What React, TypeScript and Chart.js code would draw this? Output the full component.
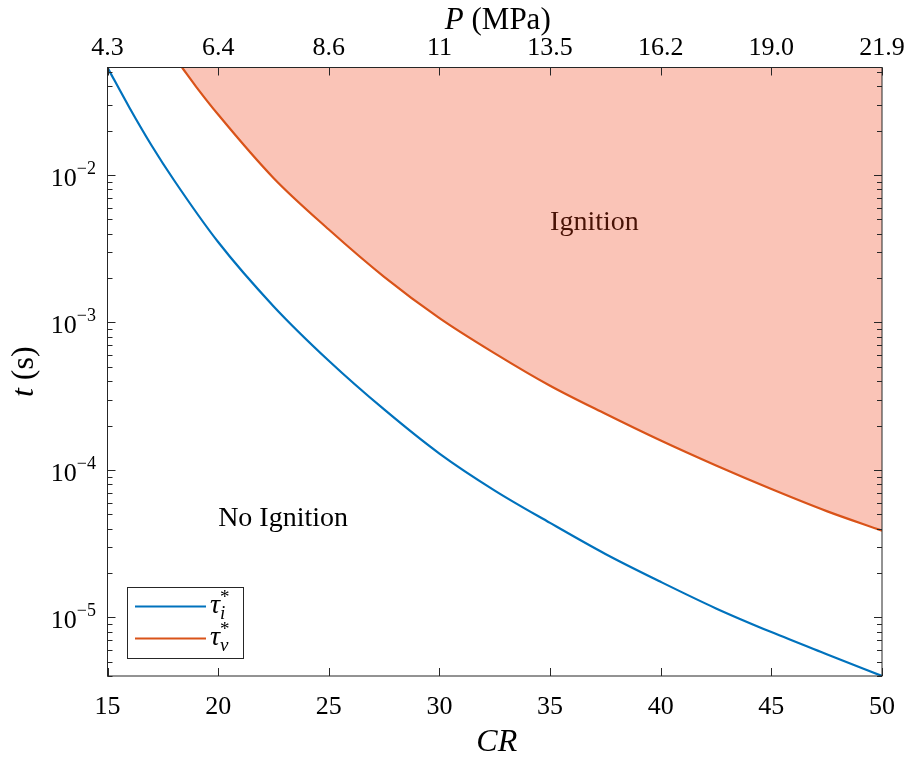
import { useEffect, useRef } from 'react';
import { Chart, registerables } from 'chart.js';

Chart.register(...registerables);

// Compression ratio grid and the two characteristic times (s)
const crIgnitionDelay = [15, 16, 17, 18, 20, 22.5, 25, 27.5, 30, 32.5, 35, 37.5, 40, 42.5, 45, 47.5, 50];
const tauIgnitionDelay = [0.0536, 0.0285, 0.0158, 0.00925, 0.00351, 0.00129, 5.5e-4, 2.57e-4, 1.29e-4, 7.24e-5, 4.37e-5, 2.69e-5, 1.74e-5, 1.15e-5, 7.94e-6, 5.62e-6, 4.0e-6];

const crVaporization = [18.37, 19, 20, 22.5, 25, 27.5, 30, 32.5, 35, 37.5, 40, 42.5, 45, 47.5, 50];
const tauVaporization = [0.0536, 0.0398, 0.0257, 0.00955, 0.00427, 0.00204, 0.00107, 6.17e-4, 3.72e-4, 2.4e-4, 1.58e-4, 1.07e-4, 7.41e-5, 5.25e-5, 3.87e-5];

// Axis ticks
const crTicks = [15, 20, 25, 30, 35, 40, 45, 50];
const pressureTickLabels = ['4.3', '6.4', '8.6', '11', '13.5', '16.2', '19.0', '21.9'];
const decadeExponents = [-5, -4, -3, -2];
const crRange = [15, 50];
const tRange = [4.0e-6, 0.0536];

// Region annotations: [CR, t]
const ignitionLabelAt = [35, 5e-3];
const noIgnitionLabelAt = [20, 5e-5];

const SERIF = '"Liberation Serif", "Times New Roman", serif';
const BLUE = '#0072BD';
const ORANGE = '#D95319';
const AXIS = '#262626';

type Run = { text: string; font: string; dy?: number };

function runsWidth(ctx: CanvasRenderingContext2D, runs: Run[]) {
  let w = 0;
  for (const r of runs) {
    ctx.font = r.font;
    w += ctx.measureText(r.text).width;
  }
  return w;
}

function drawRuns(ctx: CanvasRenderingContext2D, runs: Run[], x: number, y: number, align: 'left' | 'center' | 'right') {
  const w = runsWidth(ctx, runs);
  let cx = align === 'left' ? x : align === 'center' ? x - w / 2 : x - w;
  ctx.textAlign = 'left';
  for (const r of runs) {
    ctx.font = r.font;
    ctx.fillText(r.text, cx, y + (r.dy || 0));
    cx += ctx.measureText(r.text).width;
  }
}

// tau with a subscript and a starred superscript
function drawTau(ctx: CanvasRenderingContext2D, sub: string, x: number, y: number) {
  ctx.textAlign = 'left';
  ctx.textBaseline = 'alphabetic';
  ctx.font = `italic 28px ${SERIF}`;
  ctx.fillText('τ', x, y);
  const w = ctx.measureText('τ').width;
  ctx.font = `italic 19px ${SERIF}`;
  ctx.fillText(sub, x + w, y + 6);
  ctx.font = `19px ${SERIF}`;
  ctx.fillText('*', x + w, y - 10);
}

const matlabAxes = {
  id: 'matlabAxes',
  beforeDatasetsDraw(chart: any) {
    const { ctx } = chart;
    const xs = chart.scales.x;
    const ys = chart.scales.y;
    ctx.save();
    ctx.fillStyle = '#000';
    ctx.textBaseline = 'middle';
    ctx.textAlign = 'left';
    ctx.font = `28px ${SERIF}`;
    ctx.fillText('Ignition', xs.getPixelForValue(ignitionLabelAt[0]), ys.getPixelForValue(ignitionLabelAt[1]) + 3);
    ctx.restore();
  },
  afterDatasetsDraw(chart: any) {
    const { ctx, chartArea: a } = chart;
    const xs = chart.scales.x;
    const ys = chart.scales.y;
    ctx.save();

    ctx.fillStyle = '#000';
    ctx.textBaseline = 'middle';
    ctx.textAlign = 'left';
    ctx.font = `28px ${SERIF}`;
    ctx.fillText('No Ignition', xs.getPixelForValue(noIgnitionLabelAt[0]), ys.getPixelForValue(noIgnitionLabelAt[1]) + 4);

    // box
    ctx.strokeStyle = AXIS;
    ctx.lineWidth = 1;
    ctx.strokeRect(a.left, a.top, a.right - a.left, a.bottom - a.top);

    // x ticks, bottom and top, pointing inward
    ctx.beginPath();
    for (const v of crTicks) {
      const px = Math.round(xs.getPixelForValue(v)) + 0.5;
      ctx.moveTo(px, a.bottom);
      ctx.lineTo(px, a.bottom - 8);
      ctx.moveTo(px, a.top);
      ctx.lineTo(px, a.top + 8);
    }
    // y ticks, log major + minor
    for (let e = -6; e <= -1; e++) {
      for (let m = 1; m <= 9; m++) {
        const v = m * Math.pow(10, e);
        if (v < tRange[0] || v > tRange[1]) continue;
        const py = Math.round(ys.getPixelForValue(v)) + 0.5;
        const len = m === 1 ? 8 : 5;
        ctx.moveTo(a.left, py);
        ctx.lineTo(a.left + len, py);
        ctx.moveTo(a.right, py);
        ctx.lineTo(a.right - len, py);
      }
    }
    ctx.stroke();

    // tick labels
    ctx.fillStyle = '#000';
    ctx.textBaseline = 'alphabetic';
    ctx.textAlign = 'center';
    ctx.font = `26px ${SERIF}`;
    crTicks.forEach((v, i) => {
      const px = xs.getPixelForValue(v);
      ctx.fillText(String(v), px, 714);
      ctx.fillText(pressureTickLabels[i], px, 55);
    });
    ctx.textBaseline = 'alphabetic';
    for (const e of decadeExponents) {
      const py = ys.getPixelForValue(Math.pow(10, e));
      drawRuns(ctx, [
        { text: '10', font: `26px ${SERIF}`, dy: 11 },
        { text: '\u2212' + String(-e), font: `18px ${SERIF}`, dy: -1 },
      ], 96, py, 'right');
    }

    // axis titles
    const midX = (a.left + a.right) / 2;
    drawRuns(ctx, [{ text: 'CR', font: `italic 32px ${SERIF}` }], midX + 2, 751, 'center');
    drawRuns(ctx, [
      { text: 'P', font: `italic 31px ${SERIF}` },
      { text: ' (MPa)', font: `31px ${SERIF}` },
    ], midX + 3, 29, 'center');
    ctx.save();
    ctx.translate(33, (a.top + a.bottom) / 2);
    ctx.rotate(-Math.PI / 2);
    drawRuns(ctx, [
      { text: 't', font: `italic 32px ${SERIF}` },
      { text: ' (s)', font: `32px ${SERIF}` },
    ], 0, 0, 'center');
    ctx.restore();

    // legend
    const lx = 127.5, ly = 587.5, lw = 116, lh = 71;
    ctx.fillStyle = '#fff';
    ctx.fillRect(lx, ly, lw, lh);
    ctx.strokeStyle = AXIS;
    ctx.lineWidth = 1;
    ctx.strokeRect(lx, ly, lw, lh);
    const entries = [
      { color: BLUE, sub: 'i', y: 606.5 },
      { color: ORANGE, sub: 'v', y: 638.5 },
    ];
    for (const en of entries) {
      ctx.strokeStyle = en.color;
      ctx.lineWidth = 2;
      ctx.beginPath();
      ctx.moveTo(135, en.y);
      ctx.lineTo(206, en.y);
      ctx.stroke();
      ctx.fillStyle = '#000';
      drawTau(ctx, en.sub, 210, en.y + 6);
    }

    ctx.restore();
  },
};

export default function App() {
  const canvasRef = useRef<HTMLCanvasElement | null>(null);

  useEffect(() => {
    document.body.style.margin = '0';
    const canvas = canvasRef.current;
    if (!canvas) return;
    const chart = new Chart(canvas, {
      type: 'line',
      data: {
        datasets: [
          {
            label: 'tau_i*',
            data: crIgnitionDelay.map((x, i) => ({ x, y: tauIgnitionDelay[i] })),
            borderColor: BLUE,
            borderWidth: 2.2,
            pointRadius: 0,
            fill: false,
            cubicInterpolationMode: 'monotone',
          },
          {
            label: 'tau_v*',
            data: crVaporization.map((x, i) => ({ x, y: tauVaporization[i] })),
            borderColor: ORANGE,
            backgroundColor: 'rgba(237, 58, 18, 0.3)',
            borderWidth: 2.2,
            pointRadius: 0,
            fill: 'end',
            cubicInterpolationMode: 'monotone',
          },
        ],
      },
      options: {
        animation: false,
        responsive: false,
        maintainAspectRatio: false,
        devicePixelRatio: 1,
        layout: { padding: { left: 107.5, right: 37, top: 67.5, bottom: 83 } },
        scales: {
          x: { type: 'linear', min: crRange[0], max: crRange[1], display: false },
          y: { type: 'logarithmic', min: tRange[0], max: tRange[1], display: false },
        },
        plugins: {
          legend: { display: false },
          tooltip: { enabled: false },
        },
      },
      plugins: [matlabAxes],
    });
    return () => chart.destroy();
  }, []);

  return (
    <div style={{ width: 919, height: 759, background: '#fff' }}>
      <canvas ref={canvasRef} width={919} height={759} style={{ display: 'block' }} />
    </div>
  );
}
